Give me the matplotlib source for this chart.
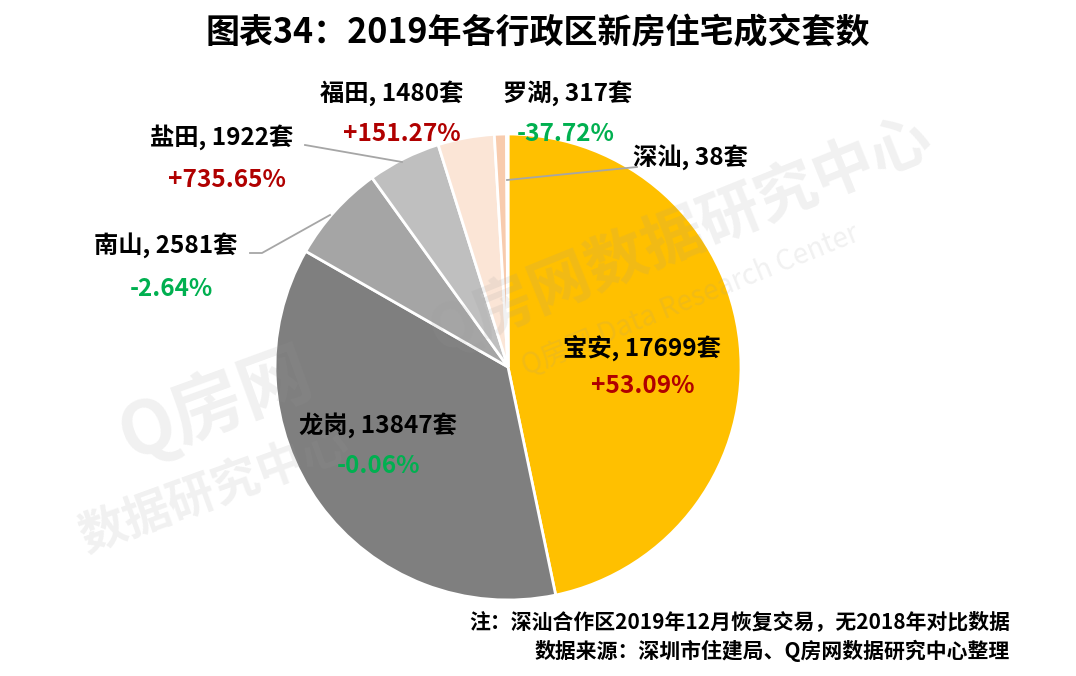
import matplotlib
matplotlib.use("Agg")
import matplotlib.pyplot as plt

plt.rcParams['font.family'] = ['Noto Sans CJK SC', 'DejaVu Sans']

# data
districts = ["宝安", "龙岗", "南山", "盐田", "福田", "罗湖", "深汕"]
units = [17699, 13847, 2581, 1922, 1480, 317, 38]
changes = ["+53.09%", "-0.06%", "-2.64%", "+735.65%", "+151.27%", "-37.72%", ""]
colors = ["#FFC000", "#7F7F7F", "#A5A5A5", "#BFBFBF", "#FBE5D6", "#F8CBAD", "#F4B183"]

W, H = 1076, 676
fig = plt.figure(figsize=(W / 100, H / 100), dpi=100)
ax = fig.add_axes([0, 0, 1, 1])

def Y(y):
    return H - y

# watermark
wm = dict(color="#9a9a9a", alpha=0.14, ha="center", va="center", zorder=5)
ax.text(680, Y(235), "Q房网数据研究中心", fontsize=44, fontweight="bold", rotation=22, **wm)
ax.text(690, Y(300), "Q房网 Data Research Center", fontsize=20, rotation=22, **wm)
ax.text(215, Y(405), "Q房网", fontsize=52, fontweight="bold", rotation=20, **wm)
ax.text(215, Y(490), "数据研究中心", fontsize=34, fontweight="bold", rotation=20, **wm)

ax.pie(units, colors=colors, startangle=90, counterclock=False,
       center=(508, Y(367)), radius=233, frame=True,
       wedgeprops=dict(edgecolor="white", linewidth=2))

ax.set_xlim(0, W)
ax.set_ylim(0, H)
ax.set_aspect("equal")
ax.axis("off")

# labels: name/value positions and change positions
name_pos = [(642, 348), (378, 425), (166, 245), (222, 137), (392, 93), (568, 93), (690, 157)]
chg_pos = [(643, 386), (378, 466), (171, 289), (227, 180), (402, 134), (566, 134), None]
red, green = "#B00000", "#00B050"

for d, u, c, p, q in zip(districts, units, changes, name_pos, chg_pos):
    ax.text(p[0], Y(p[1]), f"{d}, {u}套", fontsize=17.5, fontweight="bold",
            color="black", ha="center", va="center", zorder=6)
    if q is not None:
        ax.text(q[0], Y(q[1]), c, fontsize=17.5, fontweight="bold",
                color=red if c.startswith("+") else green,
                ha="center", va="center", zorder=6)

# leader lines
lc = "#A6A6A6"
ax.plot([305, 402], [Y(145), Y(162)], color=lc, lw=1.3, zorder=6)
ax.plot([250, 262, 330], [Y(253), Y(253), Y(215)], color=lc, lw=1.3, zorder=6)
ax.plot([507, 637], [Y(180), Y(167)], color=lc, lw=1.3, zorder=6)

# title and notes
ax.text(538, Y(33), "图表34：2019年各行政区新房住宅成交套数", fontsize=24.5,
        fontweight="bold", ha="center", va="center")
ax.text(1010, Y(622), "注：深汕合作区2019年12月恢复交易，无2018年对比数据", fontsize=15,
        fontweight="bold", ha="right", va="center")
ax.text(1010, Y(651), "数据来源：深圳市住建局、Q房网数据研究中心整理", fontsize=15,
        fontweight="bold", ha="right", va="center")

fig.savefig("out.png", dpi=100)
